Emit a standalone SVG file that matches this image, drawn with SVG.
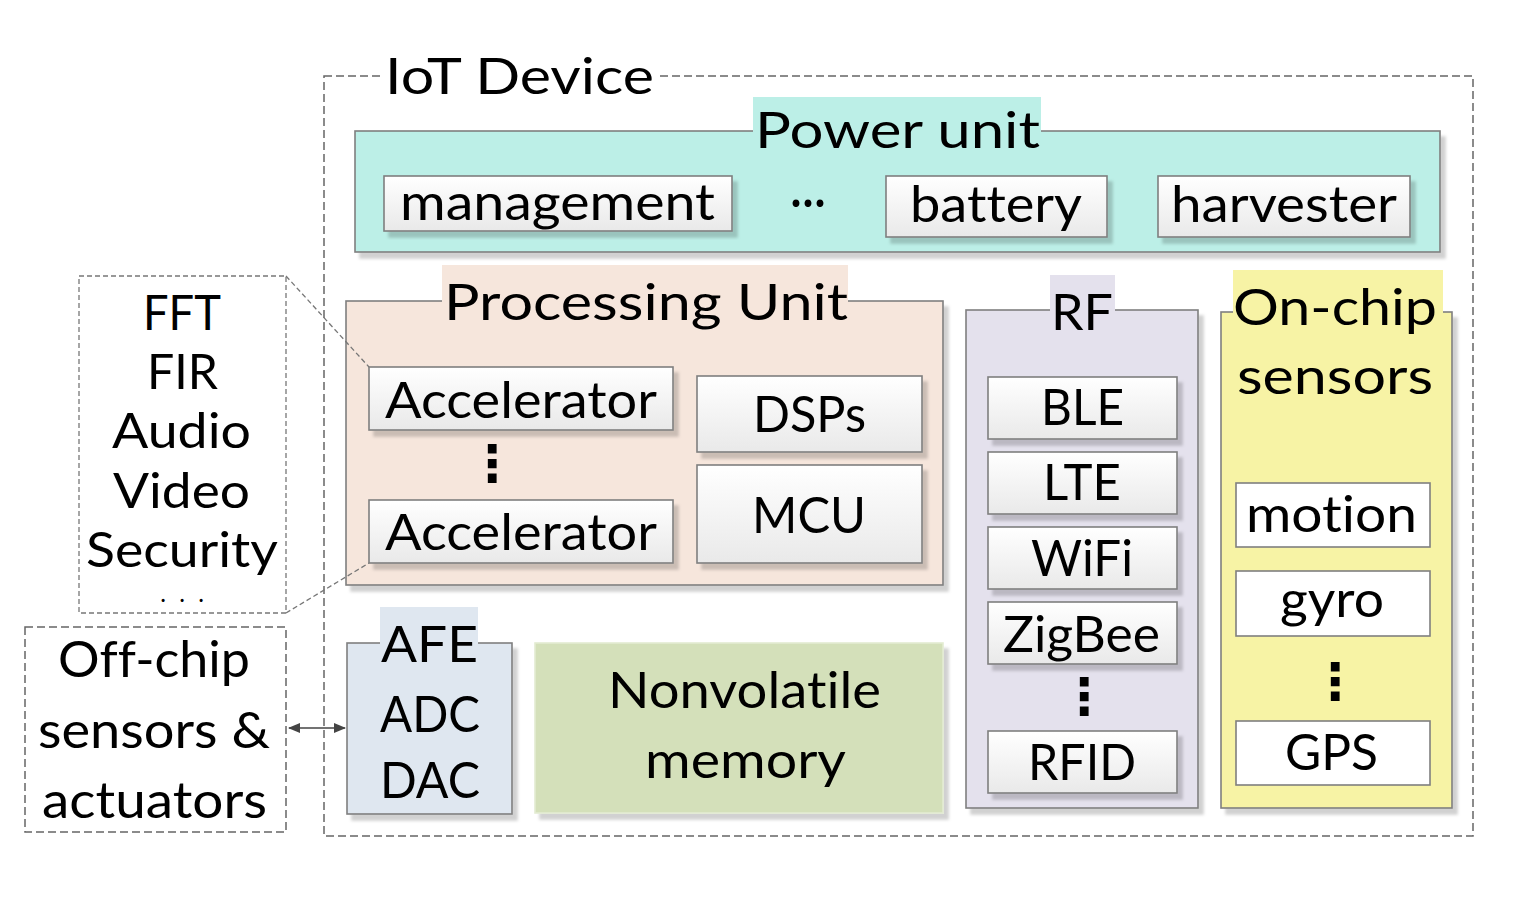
<svg xmlns="http://www.w3.org/2000/svg" width="1524" height="922" viewBox="0 0 1524 922">
<defs>
<style>
text{font-family:Lato,"Open Sans","Liberation Sans",sans-serif;font-size:50px;fill:#000;text-anchor:middle;font-variant-ligatures:none;font-feature-settings:"liga" 0,"clig" 0}
.lst{font-size:48px}
.dots{font-family:"DejaVu Sans",sans-serif;font-weight:bold}
.grp{stroke:#7f7f7f;stroke-width:1.6}
.item{fill:url(#ig);stroke:#7f7f7f;stroke-width:1.6}
.itemw{fill:#fff;stroke:#7f7f7f;stroke-width:1.6}
.dash{fill:none;stroke:#666;stroke-width:1.5;stroke-dasharray:8,4}
.dashs{fill:none;stroke:#777;stroke-width:1.3;stroke-dasharray:5,3}
</style>
<linearGradient id="ig" x1="0" y1="0" x2="0" y2="1">
<stop offset="0" stop-color="#ffffff"/>
<stop offset="1" stop-color="#e9e9e9"/>
</linearGradient>
<filter id="sh" x="-5%" y="-5%" width="115%" height="120%">
<feDropShadow dx="5" dy="6" stdDeviation="1.5" flood-color="#000" flood-opacity="0.18"/>
</filter>
<marker id="ah" viewBox="0 0 12 10" refX="11" refY="5" markerWidth="12" markerHeight="10" markerUnits="userSpaceOnUse" orient="auto-start-reverse">
<path d="M0,0 L12,5 L0,10 z" fill="#444"/>
</marker>
</defs>
<rect width="1524" height="922" fill="#fff"/>

<g id="iot-device">
<rect class="dash" x="324" y="76" width="1149" height="760"/>
<rect x="380" y="60" width="280" height="40" fill="#fff"/>
<text x="519.5" y="94" textLength="269" lengthAdjust="spacingAndGlyphs">IoT Device</text>
</g>

<g id="power-unit">
<rect class="grp" x="355" y="131" width="1085" height="121" fill="#bcefe7" filter="url(#sh)"/>
<rect x="753" y="97" width="288" height="40" fill="#bcefe7"/>
<text x="897.5" y="148" textLength="285" lengthAdjust="spacingAndGlyphs">Power unit</text>
<g id="management"><rect class="item" x="384" y="176" width="348" height="55" filter="url(#sh)"/><text x="557.5" y="220" textLength="315" lengthAdjust="spacingAndGlyphs">management</text></g>
<text x="808" y="218" textLength="36" lengthAdjust="spacingAndGlyphs">···</text>
<g id="battery"><rect class="item" x="886" y="176" width="221" height="61" filter="url(#sh)"/><text x="996" y="222" textLength="172" lengthAdjust="spacingAndGlyphs">battery</text></g>
<g id="harvester"><rect class="item" x="1158" y="176" width="252" height="61" filter="url(#sh)"/><text x="1284" y="222" textLength="226" lengthAdjust="spacingAndGlyphs">harvester</text></g>
</g>

<g id="processing-unit">
<rect class="grp" x="346" y="301" width="597" height="284" fill="#f6e6dc" filter="url(#sh)"/>
<rect x="442" y="265" width="406" height="40" fill="#f6e6dc"/>
<text x="646" y="320" textLength="404" lengthAdjust="spacingAndGlyphs">Processing Unit</text>
<g id="accelerator-1"><rect class="item" x="369" y="367" width="304" height="63" filter="url(#sh)"/><text x="521" y="418" textLength="272" lengthAdjust="spacingAndGlyphs">Accelerator</text></g>
<text class="dots" x="492" y="481" font-size="42">⋮</text>
<g id="accelerator-2"><rect class="item" x="369" y="500" width="304" height="63" filter="url(#sh)"/><text x="521" y="550" textLength="272" lengthAdjust="spacingAndGlyphs">Accelerator</text></g>
<g id="dsps"><rect class="item" x="697" y="376" width="225" height="76" filter="url(#sh)"/><text x="809.5" y="432" textLength="113" lengthAdjust="spacingAndGlyphs">DSPs</text></g>
<g id="mcu"><rect class="item" x="697" y="465" width="225" height="98" filter="url(#sh)"/><text x="809" y="533" textLength="114" lengthAdjust="spacingAndGlyphs">MCU</text></g>
</g>

<g id="rf">
<rect class="grp" x="966" y="310" width="232" height="498" fill="#e4e1ed" filter="url(#sh)"/>
<rect x="1050" y="275" width="65" height="40" fill="#e4e1ed"/>
<text x="1082" y="330" textLength="62" lengthAdjust="spacingAndGlyphs">RF</text>
<g id="ble"><rect class="item" x="988" y="377" width="189" height="62" filter="url(#sh)"/><text x="1082.5" y="425" textLength="83" lengthAdjust="spacingAndGlyphs">BLE</text></g>
<g id="lte"><rect class="item" x="988" y="452" width="189" height="62" filter="url(#sh)"/><text x="1082" y="500" textLength="78" lengthAdjust="spacingAndGlyphs">LTE</text></g>
<g id="wifi"><rect class="item" x="988" y="527" width="189" height="62" filter="url(#sh)"/><text x="1082" y="576" textLength="102" lengthAdjust="spacingAndGlyphs">WiFi</text></g>
<g id="zigbee"><rect class="item" x="988" y="602" width="189" height="62" filter="url(#sh)"/><text x="1081.5" y="652" textLength="157" lengthAdjust="spacingAndGlyphs">ZigBee</text></g>
<text class="dots" x="1084" y="714" font-size="42">⋮</text>
<g id="rfid"><rect class="item" x="988" y="731" width="189" height="62" filter="url(#sh)"/><text x="1082" y="780" textLength="108" lengthAdjust="spacingAndGlyphs">RFID</text></g>
</g>

<g id="on-chip-sensors">
<rect class="grp" x="1221" y="312" width="231" height="496" fill="#f7f3a5" filter="url(#sh)"/>
<rect x="1233" y="270" width="210" height="45" fill="#f7f3a5"/>
<text x="1335" y="325" textLength="204" lengthAdjust="spacingAndGlyphs">On-chip</text>
<text x="1335" y="394" textLength="196" lengthAdjust="spacingAndGlyphs">sensors</text>
<g id="motion"><rect class="itemw" x="1236" y="483" width="194" height="64"/><text x="1331.5" y="532" textLength="171" lengthAdjust="spacingAndGlyphs">motion</text></g>
<g id="gyro"><rect class="itemw" x="1236" y="571" width="194" height="65"/><text x="1332" y="617" textLength="104" lengthAdjust="spacingAndGlyphs">gyro</text></g>
<text class="dots" x="1335" y="699" font-size="42">⋮</text>
<g id="gps"><rect class="itemw" x="1236" y="721" width="194" height="64"/><text x="1331.5" y="770" textLength="93" lengthAdjust="spacingAndGlyphs">GPS</text></g>
</g>

<g id="afe">
<rect class="grp" x="347" y="643" width="165" height="171" fill="#dfe7f0" filter="url(#sh)"/>
<rect x="380" y="607" width="98" height="40" fill="#dfe7f0"/>
<text x="429.5" y="662" textLength="97" lengthAdjust="spacingAndGlyphs">AFE</text>
<text x="430" y="732" textLength="100" lengthAdjust="spacingAndGlyphs">ADC</text>
<text x="430" y="798" textLength="100" lengthAdjust="spacingAndGlyphs">DAC</text>
</g>

<g id="nonvolatile-memory">
<rect x="535" y="643" width="408" height="170" fill="#d4e0ba" stroke="#e3ecd2" stroke-width="1.6" filter="url(#sh)"/>
<text x="744.5" y="708" textLength="273" lengthAdjust="spacingAndGlyphs">Nonvolatile</text>
<text x="745.5" y="778" textLength="201" lengthAdjust="spacingAndGlyphs">memory</text>
</g>

<g id="accelerator-types">
<rect class="dashs" x="79" y="276" width="207" height="337"/>
<text class="lst"><tspan x="182" y="330" textLength="78" lengthAdjust="spacingAndGlyphs">FFT</tspan><tspan x="182.5" y="389" textLength="71" lengthAdjust="spacingAndGlyphs">FIR</tspan><tspan x="181.5" y="448" textLength="139" lengthAdjust="spacingAndGlyphs">Audio</tspan><tspan x="181.5" y="508" textLength="137" lengthAdjust="spacingAndGlyphs">Video</tspan><tspan x="182" y="567" textLength="192" lengthAdjust="spacingAndGlyphs">Security</tspan><tspan x="163 182 201" y="602" font-size="20" font-weight="bold">...</tspan></text>
</g>

<g id="off-chip">
<rect class="dash" x="25" y="627" width="261" height="205"/>
<text x="154" y="677" textLength="192" lengthAdjust="spacingAndGlyphs">Off-chip</text>
<text x="154" y="748" textLength="232" lengthAdjust="spacingAndGlyphs">sensors &amp;</text>
<text x="154.5" y="818" textLength="225" lengthAdjust="spacingAndGlyphs">actuators</text>
</g>

<g id="connectors">
<line class="dashs" x1="286" y1="276" x2="369" y2="367"/>
<line class="dashs" x1="286" y1="613" x2="369" y2="563"/>
<line x1="289" y1="728" x2="345" y2="728" stroke="#444" stroke-width="1.6" marker-start="url(#ah)" marker-end="url(#ah)"/>
</g>
</svg>
